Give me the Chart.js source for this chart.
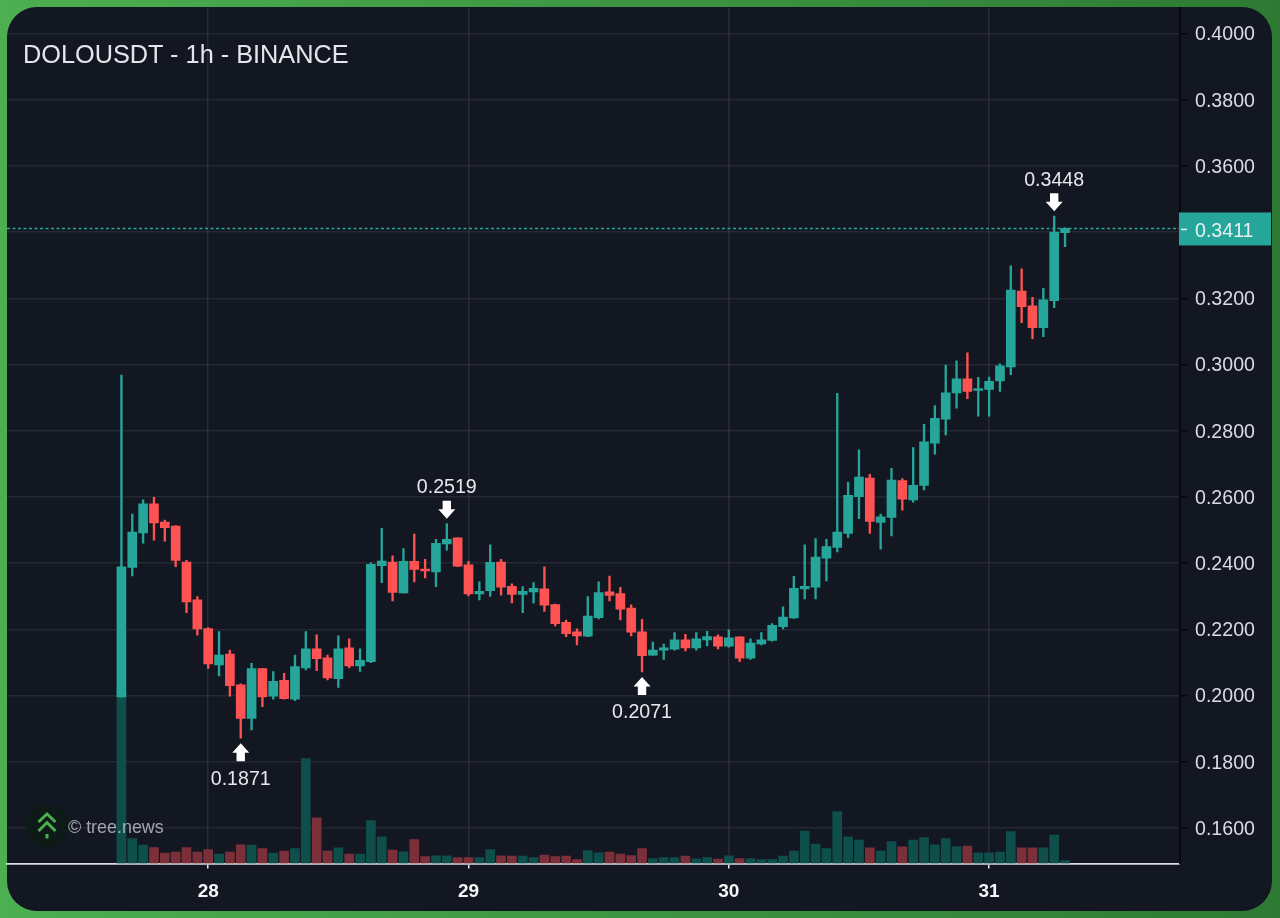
<!DOCTYPE html>
<html>
<head>
<meta charset="utf-8">
<title>DOLOUSDT - 1h - BINANCE</title>
<script src="https://cdn.jsdelivr.net/npm/chart.js@4"></script>
<style>
  html, body { margin: 0; padding: 0; width: 1280px; height: 918px; overflow: hidden; }
  body { background: linear-gradient(90deg, #4caf50, #2e7a34); font-family: "Liberation Sans", sans-serif; }
  #panel { position: absolute; left: 7px; top: 7px; width: 1265px; height: 904px; border-radius: 30px; background: #131722; }
  #grafica { position: absolute; left: 0; top: 0; }
  #titulo { position: absolute; left: 23px; top: 39px; font-size: 25.3px; line-height: 30px; color: #e4e6eb; }
  #marca { position: absolute; left: 68px; top: 816px; font-size: 17.9px; line-height: 22px; color: rgba(215, 218, 224, 0.72); }
  #logo { position: absolute; left: 25px; top: 804px; }
</style>
</head>
<body>
<div id="panel"></div>
<canvas id="grafica" width="1280" height="918"></canvas>
<div id="titulo">DOLOUSDT - 1h - BINANCE</div>
<svg id="logo" width="44" height="44" viewBox="0 0 44 44">
  <circle cx="22" cy="22" r="21.5" fill="#0d1a17"/>
  <path d="M13.5 18 L22 10 L30.5 18 M13.5 27 L22 18.5 L30.5 27" fill="none" stroke="#4caf50" stroke-width="3"/>
  <rect x="20.5" y="30" width="3" height="4.5" fill="#4caf50"/>
</svg>
<div id="marca">© tree.news</div>
<script>
// hours counted from midnight of day 28
const hours = [-8,-7,-6,-5,-4,-3,-2,-1,0,1,2,3,4,5,6,7,8,9,10,11,12,13,14,15,16,17,18,19,20,21,22,23,
  24,25,26,27,28,29,30,31,32,33,34,35,36,37,38,39,40,41,42,43,44,45,46,47,48,49,50,51,52,53,54,55,
  56,57,58,59,60,61,62,63,64,65,66,67,68,69,70,71,72,73,74,75,76,77,78,79];

const opens = [.1996,.2387,.2491,.2579,.2524,.2512,.2403,.2289,.2202,.2092,.2125,.2032,.1931,.2081,.1998,.2046,.1989,.2083,.2141,.2114,.2051,.2144,.2089,.2102,
  .2392,.2403,.2310,.2405,.2382,.2373,.2458,.2476,.2395,.2307,.2317,.2403,.2330,.2305,.2313,.2322,.2275,.2221,.2192,.2179,.2235,.2313,.2308,.2264,
  .2192,.2122,.2137,.2140,.2168,.2144,.2168,.2177,.2149,.2177,.2113,.2156,.2166,.2208,.2234,.2322,.2327,.2415,.2447,.2490,.2601,.2657,.2523,.2538,
  .2649,.2591,.2635,.2762,.2835,.2914,.2957,.2922,.2925,.2950,.2993,.3222,.3177,.3111,.3193,.3398];
const highs = [.2968,.2548,.2591,.2599,.2530,.2513,.2408,.2299,.2205,.2193,.2137,.2035,.2097,.2081,.2072,.2067,.2122,.2193,.2183,.2122,.2180,.2171,.2141,.2401,
  .2505,.2422,.2444,.2488,.2411,.2472,.2519,.2476,.2405,.2343,.2455,.2411,.2337,.2329,.2341,.2389,.2276,.2228,.2201,.2299,.2343,.2361,.2327,.2274,
  .2230,.2161,.2155,.2190,.2185,.2190,.2194,.2183,.2198,.2177,.2171,.2190,.2217,.2268,.2360,.2455,.2474,.2472,.2913,.2644,.2742,.2668,.2548,.2686,
  .2655,.2749,.2819,.2876,.2998,.3011,.3035,.2961,.2962,.3002,.3298,.3289,.3203,.3230,.3448,.3413];
const lows = [.1996,.2361,.2460,.2469,.2466,.2389,.2250,.2182,.2082,.2059,.1998,.1871,.1896,.1966,.1989,.1989,.1984,.2077,.2075,.2047,.2024,.2083,.2073,.2099,
  .2341,.2286,.2309,.2343,.2355,.2329,.2439,.2389,.2301,.2289,.2299,.2303,.2280,.2250,.2279,.2254,.2210,.2178,.2153,.2178,.2231,.2286,.2228,.2180,
  .2071,.2121,.2109,.2137,.2135,.2137,.2150,.2141,.2146,.2102,.2109,.2153,.2164,.2201,.2233,.2292,.2292,.2346,.2434,.2477,.2534,.2490,.2442,.2482,
  .2560,.2584,.2621,.2729,.2787,.2868,.2897,.2844,.2844,.2919,.2969,.3126,.3078,.3084,.3172,.3356];
const closes = [.2389,.2494,.2579,.2521,.2507,.2408,.2283,.2201,.2095,.2122,.2030,.1931,.2081,.1996,.2043,.1990,.2087,.2141,.2111,.2053,.2141,.2089,.2106,.2396,
  .2406,.2311,.2405,.2381,.2376,.2460,.2472,.2391,.2307,.2315,.2402,.2327,.2305,.2315,.2324,.2273,.2217,.2187,.2180,.2240,.2311,.2302,.2261,.2191,
  .2120,.2137,.2144,.2168,.2144,.2171,.2178,.2149,.2174,.2113,.2158,.2168,.2212,.2237,.2324,.2330,.2418,.2450,.2494,.2605,.2660,.2526,.2540,.2651,
  .2593,.2635,.2766,.2837,.2914,.2957,.2919,.2927,.2949,.2996,.3225,.3175,.3111,.3195,.3400,.3411];
const volumes = [173,25,18.3,16,10.3,11.3,16,11.3,14,9.3,11.3,18.7,18.3,15,10.3,12.3,15,105,45.7,12.3,15.7,9.3,9.3,43,
  26.7,13.3,11.7,24,7,7.7,7.7,6,6,6,14,7.7,7.3,7.3,6,8.3,7,7.3,4,13,10.7,11.3,9.3,8,
  15,5,6,6,7.3,4.7,6,4.3,7.7,5,5,4,4,7.3,12.3,32.3,19.3,15,52,26.7,23.3,15.7,12.3,22,
  16.7,23.3,26,18.7,25,17,17.3,10.3,10.7,11.3,32,15.7,15.7,15.7,28.3,3];

const priceTicks = [0.16,0.18,0.20,0.22,0.24,0.26,0.28,0.30,0.32,0.34,0.36,0.38,0.40];
const dayTicks = [0,24,48,72];
const dayLabels = ['28','29','30','31'];
const lastPrice = 0.3411;

// high and low callouts
const markerHours = [3,22,40,78];
const markerValues = [0.1871,0.2519,0.2071,0.3448];
const markerSides = ['low','high','low','high'];

const UP = '#26a69a';
const DOWN = '#ff5252';
const VOL_UP = '#0e4f4b';
const VOL_DOWN = '#7b2f38';
const FONT = '"Liberation Sans", sans-serif';

const isUp = closes.map((c, i) => c >= opens[i]);

const panelDecor = {
  id: 'panelDecor',
  beforeDraw(chart) {
    // the price labels sit a little lower than canvas "middle"
    chart.scales.y.getLabelItems().forEach(item => { item.options.translation[1] += 1.5; });
  },
  afterDatasetsDraw(chart) {
    const { ctx, chartArea } = chart;
    const y = chart.scales.y;
    const x = chart.scales.x;
    const py = y.getPixelForValue(lastPrice);
    ctx.save();

    // last price line and its tag
    ctx.strokeStyle = UP;
    ctx.lineWidth = 1.5;
    ctx.setLineDash([3, 2.5]);
    ctx.beginPath();
    ctx.moveTo(chartArea.left, py);
    ctx.lineTo(chartArea.right, py);
    ctx.stroke();
    ctx.setLineDash([]);
    ctx.fillStyle = UP;
    ctx.fillRect(chartArea.right - 1, py - 16, 92, 33);
    ctx.strokeStyle = '#e6f2f0';
    ctx.lineWidth = 1.5;
    ctx.beginPath();
    ctx.moveTo(chartArea.right + 1, py + 1);
    ctx.lineTo(chartArea.right + 7, py + 1);
    ctx.stroke();
    ctx.fillStyle = '#e6f2f0';
    ctx.font = '19.6px ' + FONT;
    ctx.textAlign = 'left';
    ctx.textBaseline = 'middle';
    ctx.fillText(lastPrice.toFixed(4), chartArea.right + 15, py + 3);

    // arrows with the extreme values
    markerHours.forEach((h, i) => {
      const mx = x.getPixelForValue(h);
      const my = y.getPixelForValue(markerValues[i]);
      const dir = markerSides[i] === 'high' ? -1 : 1;
      const tip = my + dir * 5;
      ctx.fillStyle = '#ffffff';
      ctx.beginPath();
      ctx.moveTo(mx, tip);
      ctx.lineTo(mx + 8.5, tip + dir * 9.5);
      ctx.lineTo(mx + 4.2, tip + dir * 9.5);
      ctx.lineTo(mx + 4.2, tip + dir * 18);
      ctx.lineTo(mx - 4.2, tip + dir * 18);
      ctx.lineTo(mx - 4.2, tip + dir * 9.5);
      ctx.lineTo(mx - 8.5, tip + dir * 9.5);
      ctx.closePath();
      ctx.fill();
      ctx.fillStyle = '#e6e8ec';
      ctx.font = '19.6px ' + FONT;
      ctx.textAlign = 'center';
      ctx.fillText(markerValues[i].toFixed(4), mx, my + (dir > 0 ? 41 : -36));
    });
    ctx.restore();
  }
};

new Chart(document.getElementById('grafica'), {
  type: 'bar',
  plugins: [panelDecor],
  data: {
    datasets: [
      {
        label: 'Cuerpo',
        yAxisID: 'y',
        order: 0,
        data: hours.map((h, i) => ({ x: h, y: [opens[i], closes[i]] })),
        backgroundColor: isUp.map(u => (u ? UP : DOWN)),
        barThickness: 9,
        minBarLength: 1.5
      },
      {
        label: 'Mecha',
        yAxisID: 'y',
        order: 1,
        data: hours.map((h, i) => ({ x: h, y: [lows[i], highs[i]] })),
        backgroundColor: isUp.map(u => (u ? UP : DOWN)),
        barThickness: 1.7
      },
      {
        label: 'Volumen',
        yAxisID: 'yVol',
        order: 2,
        data: hours.map((h, i) => ({ x: h, y: volumes[i] })),
        backgroundColor: isUp.map(u => (u ? VOL_UP : VOL_DOWN)),
        barThickness: 9
      }
    ]
  },
  options: {
    responsive: false,
    animation: false,
    devicePixelRatio: 1,
    grouped: false,
    events: [],
    layout: { padding: { left: 7, top: 8, right: 0, bottom: 0 } },
    plugins: { legend: { display: false }, tooltip: { enabled: false } },
    scales: {
      x: {
        type: 'linear',
        offset: false,
        min: -18.55,
        max: 89.6,
        afterBuildTicks: s => { s.ticks = dayTicks.map(v => ({ value: v })); },
        afterFit: s => { s.height = 54.5; s.paddingLeft = 0; s.paddingRight = 0; },
        grid: { offset: false, color: 'rgba(255,255,255,0.085)', lineWidth: 1.5, tickColor: '#e6e8ec', tickLength: 5, drawOnChartArea: true },
        border: { color: '#d9dbe0', width: 1.8 },
        ticks: {
          autoSkip: false,
          maxRotation: 0,
          padding: 12,
          color: '#f4f5f7',
          font: { family: FONT, size: 19, weight: 'bold' },
          callback: v => dayLabels[dayTicks.indexOf(v)]
        }
      },
      y: {
        position: 'right',
        min: 0.14924,
        max: 0.40770,
        afterBuildTicks: s => { s.ticks = priceTicks.map(v => ({ value: v })); },
        afterFit: s => { s.width = 100; s.paddingTop = 0; s.paddingBottom = 0; },
        grid: { color: 'rgba(255,255,255,0.075)', lineWidth: 1.5, tickColor: '#05070b', tickLength: 7 },
        border: { color: '#05070b', width: 1.8 },
        ticks: {
          autoSkip: false,
          padding: 8,
          color: '#d9dce2',
          font: { family: FONT, size: 19.6 },
          callback: v => v.toFixed(4)
        }
      },
      yVol: {
        display: false,
        min: 0,
        max: 855.5
      }
    }
  }
});
</script>
</body>
</html>
